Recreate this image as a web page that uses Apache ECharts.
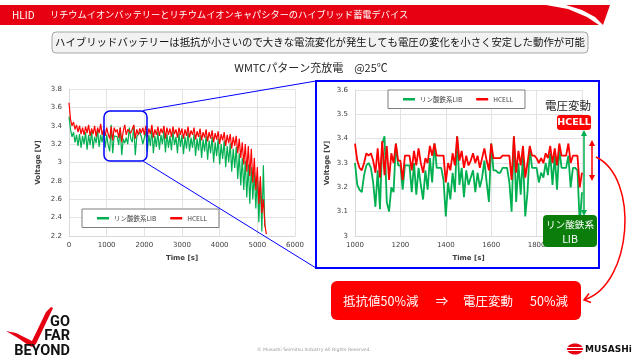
<!DOCTYPE html>
<html><head><meta charset="utf-8">
<script src="https://cdn.jsdelivr.net/npm/echarts@6/dist/echarts.min.js"></script>
<style>html,body{margin:0;padding:0;background:#fff}#c{width:640px;height:360px}</style>
</head><body><div id="c"></div>
<script>
// ---------- data ----------
const seriesNames = ['リン酸鉄系LIB', 'HCELL'];

// full WMTC run: samples every 40 s starting at 0 s
const fullStart = 0, fullStep = 40;
const libFull = [
3.50,3.36,3.28,3.33,3.22,3.30,3.18,3.31,3.16,3.29,3.20,3.33,3.14,3.30,3.19,3.34,3.15,3.28,3.21,3.35,
3.17,3.30,3.22,3.34,3.16,3.30,3.19,3.12,3.41,3.10,3.29,3.29,3.28,3.19,3.38,3.08,3.26,3.21,3.27,3.20,
3.38,3.26,3.22,3.40,3.08,3.28,3.30,3.33,3.28,3.20,3.18,3.34,3.12,3.30,3.18,3.36,3.10,3.29,3.17,3.33,
3.14,3.30,3.20,3.35,3.11,3.31,3.16,3.29,3.13,3.34,3.19,3.28,3.10,3.32,3.17,3.30,3.09,3.28,3.15,3.33,
3.12,3.27,3.16,3.31,3.07,3.26,3.13,3.30,3.05,3.25,3.12,3.29,3.03,3.24,3.10,3.28,3.00,3.22,3.07,3.26,
2.98,3.20,3.04,3.24,2.95,3.18,3.00,3.21,2.90,3.15,2.94,3.17,2.82,3.10,2.75,3.05,2.70,3.02,2.62,2.98,
2.55,2.95,2.60,2.90,2.50,2.85,2.35,2.80,2.25,2.97,2.30
];
const hcellFull = [
3.65,3.47,3.40,3.44,3.36,3.41,3.33,3.40,3.31,3.38,3.30,3.39,3.32,3.41,3.29,3.37,3.31,3.40,3.28,3.38,
3.32,3.42,3.30,3.36,3.29,3.38,3.31,3.26,3.39,3.24,3.38,3.33,3.36,3.27,3.38,3.22,3.34,3.41,3.30,3.36,
3.38,3.32,3.33,3.41,3.26,3.36,3.30,3.37,3.32,3.38,3.30,3.40,3.28,3.37,3.31,3.41,3.27,3.36,3.30,3.39,
3.29,3.37,3.32,3.40,3.26,3.38,3.30,3.37,3.28,3.39,3.31,3.36,3.27,3.38,3.30,3.37,3.26,3.36,3.29,3.39,
3.27,3.35,3.30,3.38,3.25,3.34,3.28,3.37,3.24,3.33,3.27,3.36,3.23,3.33,3.26,3.35,3.22,3.32,3.25,3.34,
3.20,3.31,3.24,3.33,3.18,3.30,3.21,3.31,3.15,3.28,3.18,3.29,3.10,3.26,3.05,3.22,2.98,3.20,2.90,3.18,
2.85,3.15,2.78,3.05,2.70,2.95,2.55,2.85,2.45,2.60,2.32,2.22
];

// zoomed window 1000–2000 s: samples every 10 s
const zoomStart = 1000, zoomStep = 10;
const libZoom = [
3.30,3.21,3.19,3.18,3.25,3.29,3.30,3.28,3.22,3.12,3.27,3.11,3.38,3.41,3.14,3.10,3.20,3.18,3.38,3.29,
3.29,3.19,3.29,3.29,3.29,3.18,3.30,3.17,3.28,3.21,3.15,3.27,3.19,3.32,3.22,3.38,3.28,3.28,3.28,3.23,
3.08,3.22,3.15,3.26,3.18,3.41,3.21,3.28,3.16,3.27,3.21,3.24,3.27,3.18,3.26,3.20,3.24,3.31,3.22,3.14,
3.38,3.27,3.27,3.26,3.26,3.28,3.28,3.28,3.22,3.10,3.41,3.14,3.30,3.17,3.33,3.08,3.18,3.36,3.28,3.28,
3.28,3.22,3.26,3.24,3.30,3.25,3.34,3.21,3.33,3.19,3.36,3.28,3.28,3.28,3.33,3.20,3.28,3.28,3.27,3.05,
3.18
];
const hcellZoom = [
3.38,3.31,3.28,3.27,3.30,3.34,3.33,3.34,3.31,3.26,3.36,3.24,3.39,3.25,3.37,3.23,3.34,3.30,3.38,3.31,
3.31,3.23,3.33,3.33,3.33,3.27,3.35,3.29,3.36,3.30,3.26,3.32,3.30,3.37,3.33,3.38,3.33,3.33,3.33,3.33,
3.22,3.30,3.27,3.34,3.29,3.41,3.31,3.35,3.28,3.33,3.29,3.31,3.34,3.30,3.33,3.28,3.32,3.36,3.31,3.27,
3.38,3.32,3.32,3.32,3.32,3.33,3.33,3.33,3.33,3.23,3.41,3.26,3.35,3.29,3.37,3.24,3.30,3.37,3.33,3.33,
3.32,3.30,3.32,3.30,3.34,3.32,3.37,3.30,3.36,3.29,3.38,3.33,3.33,3.33,3.38,3.30,3.33,3.33,3.33,3.20,
3.26
];

// tick labels
const fullXTicks = [0,1000,2000,3000,4000,5000,6000];
const fullYTicks = [2.2,2.4,2.6,2.8,3,3.2,3.4,3.6,3.8];
const zoomXTicks = [1000,1200,1400,1600,1800,2000];
const zoomYTicks = [3,3.1,3.2,3.3,3.4,3.5,3.6];

// ---------- build ----------
const pairs = (arr, start, step) => arr.map((v, i) => [start + i * step, v]);
const GREEN = '#00b050', RED = '#ff0000', BLUE = '#0000ff';
const CJK = '"Noto Sans CJK JP", "Noto Sans", sans-serif';
const LAT = '"DejaVu Sans", sans-serif';

function axisX(ticks, grid, name) {
  return {
    type: 'value', gridIndex: grid, min: ticks[0], max: ticks[ticks.length - 1],
    interval: ticks[1] - ticks[0], name: name, nameLocation: 'middle', nameGap: 19,
    nameTextStyle: {fontSize: 7, fontWeight: 'bold', color: '#404040', fontFamily: LAT},
    axisLine: {lineStyle: {color: '#d9d9d9'}}, axisTick: {show: false},
    axisLabel: {fontSize: 7, color: '#404040', fontFamily: LAT, margin: 6, formatter: v => String(v)},
    splitLine: {lineStyle: {color: '#e3e3e3'}}
  };
}
function axisY(ticks, grid, gap) {
  const step = Math.round((ticks[1] - ticks[0]) * 10) / 10;
  return {
    type: 'value', gridIndex: grid, min: ticks[0], max: ticks[ticks.length - 1],
    interval: step, name: 'Voltage [V]', nameLocation: 'middle', nameGap: gap, nameRotate: 90,
    nameTextStyle: {fontSize: 7, fontWeight: 'bold', color: '#404040', fontFamily: LAT},
    axisLine: {show: true, lineStyle: {color: '#d9d9d9'}}, axisTick: {show: false},
    axisLabel: {fontSize: 7, color: '#404040', fontFamily: LAT, margin: 7,
      formatter: v => String(Math.round(v * 10) / 10)},
    splitLine: {lineStyle: {color: '#e3e3e3'}}
  };
}
function legend(left, top) {
  return {
    data: seriesNames, left: left, top: top, orient: 'horizontal',
    icon: 'rect', itemWidth: 12, itemHeight: 2.5, itemGap: 14,
    padding: [6, 12, 6, 15], borderColor: '#7f7f7f', borderWidth: 1, backgroundColor: '#fff',
    textStyle: {fontSize: 6.5, color: '#404040', fontFamily: CJK},
    selectedMode: false
  };
}

const chart = echarts.init(document.getElementById('c'), null, {renderer: 'canvas'});
const T = (x, y, text, size, color, opts) => Object.assign({
  type: 'text', x: x, y: y, z: 110,
  style: Object.assign({text: text, fill: color, fontSize: size, fontFamily: CJK,
    textAlign: 'left', textVerticalAlign: 'middle'}, opts || {})
});

const graphics = [
  // header band
  {type: 'polygon', z: 100, shape: {points: [[0,5],[610,5],[603,25],[0,25]]}, style: {fill: '#e60012'}},
  {type: 'polygon', z: 101, shape: {points: [[546,5],[566,5],[582,10],[595,17],[603,25],[599,25],[587,17],[568,9]]}, style: {fill: '#fff'}},
  T(12, 15, 'HLID', 10, '#fff'),
  T(50, 15, 'リチウムイオンバッテリーとリチウムイオンキャパシターのハイブリッド蓄電デバイス', 9.2, '#fff'),
  // subtitle
  {type: 'rect', z: 100, shape: {x: 52, y: 32, width: 536, height: 21, r: 4}, style: {fill: '#f2f2f2', stroke: '#a6a6a6', lineWidth: 1}},
  T(320, 42.5, 'ハイブリッドバッテリーは抵抗が小さいので大きな電流変化が発生しても電圧の変化を小さく安定した動作が可能', 10.4, '#111', {textAlign: 'center'}),
  // title
  T(311, 68, 'WMTCパターン充放電　@25℃', 11, '#262626', {textAlign: 'center'}),
  // zoom marker on left chart and connectors
  {type: 'rect', z: 105, shape: {x: 104, y: 111, width: 43, height: 50, r: 6}, style: {fill: 'none', stroke: BLUE, lineWidth: 1.5}},
  {type: 'line', z: 105, shape: {x1: 143, y1: 110.5, x2: 316, y2: 81}, style: {stroke: BLUE, lineWidth: 1}},
  {type: 'line', z: 105, shape: {x1: 143, y1: 161, x2: 316, y2: 268}, style: {stroke: BLUE, lineWidth: 1}},
  {type: 'rect', z: 105, shape: {x: 316, y: 81, width: 283, height: 187}, style: {fill: 'none', stroke: BLUE, lineWidth: 2}},
  // annotations on right chart
  T(568, 106, '電圧変動', 11.5, '#262626', {textAlign: 'center'}),
  {type: 'rect', z: 108, shape: {x: 557, y: 115, width: 34, height: 15, r: 3}, style: {fill: RED}},
  T(574, 122.8, 'HCELL', 9.5, '#fff', {textAlign: 'center', fontWeight: 'bold', fontFamily: LAT}),
  {type: 'line', z: 108, shape: {x1: 584, y1: 134, x2: 584, y2: 212}, style: {stroke: GREEN, lineWidth: 1.5}},
  {type: 'polygon', z: 108, shape: {points: [[584,130],[581,136],[587,136]]}, style: {fill: GREEN}},
  {type: 'polygon', z: 108, shape: {points: [[584,216],[581,210],[587,210]]}, style: {fill: GREEN}},
  {type: 'line', z: 108, shape: {x1: 592, y1: 144, x2: 592, y2: 177}, style: {stroke: RED, lineWidth: 1.5}},
  {type: 'polygon', z: 108, shape: {points: [[592,140],[589,146],[595,146]]}, style: {fill: RED}},
  {type: 'polygon', z: 108, shape: {points: [[592,181],[589,175],[595,175]]}, style: {fill: RED}},
  {type: 'rect', z: 108, shape: {x: 543, y: 215, width: 54, height: 32, r: 4}, style: {fill: '#0b7d0b'}},
  T(570, 224, 'リン酸鉄系', 9.6, '#fff', {textAlign: 'center'}),
  T(570, 239, 'LIB', 10.5, '#fff', {textAlign: 'center'}),
  // red curved arrow
  {type: 'bezierCurve', z: 108, shape: {x1: 596, y1: 157, cpx1: 640, cpy1: 178, cpx2: 632, cpy2: 284, x2: 585, y2: 299.5}, style: {stroke: RED, lineWidth: 1.5, fill: 'none'}},
  {type: 'polyline', z: 108, shape: {points: [[589,293.5],[584,300],[591,302.5]]}, style: {stroke: RED, lineWidth: 1.5, fill: 'none'}},
  // conclusion box
  {type: 'rect', z: 100, shape: {x: 331, y: 281, width: 250, height: 39, r: 6}, style: {fill: RED}},
  T(343, 301, '抵抗値50%減', 12.5, '#fff'),
  T(442, 301, '⇒', 12.5, '#fff', {textAlign: 'center'}),
  T(463, 301, '電圧変動', 12.5, '#fff'),
  T(530, 301, '50%減', 12.5, '#fff'),
  // footer
  {type: 'polygon', z: 100, shape: {points: [[6,331],[16,333],[26,338],[32,341],[46,312],[51,307],[53,308],[36,344],[32,347],[28,345],[18,338]]}, style: {fill: '#e60012'}},
  T(70, 322, 'GO', 14.5, '#111', {textAlign: 'right', fontWeight: 'bold', fontFamily: '"Roboto", sans-serif'}),
  T(70, 336.5, 'FAR', 14.5, '#111', {textAlign: 'right', fontWeight: 'bold', fontFamily: '"Roboto", sans-serif'}),
  T(70, 351, 'BEYOND', 14.5, '#111', {textAlign: 'right', fontWeight: 'bold', fontFamily: '"Roboto", sans-serif'}),
  T(257, 349.5, '© Musashi Seimitsu Industry All Rights Reserved.', 4.6, '#9a9a9a', {fontFamily: LAT}),
  {type: 'ellipse', z: 100, shape: {cx: 575, cy: 349, rx: 8, ry: 5.5}, style: {fill: '#e60012'}},
  {type: 'line', z: 101, shape: {x1: 566, y1: 347.5, x2: 584, y2: 347.5}, style: {stroke: '#fff', lineWidth: 1}},
  {type: 'line', z: 101, shape: {x1: 566, y1: 350.5, x2: 584, y2: 350.5}, style: {stroke: '#fff', lineWidth: 1}},
  T(585, 349.5, 'MUSASHi', 9, '#111', {fontWeight: 'bold', fontFamily: LAT})
];

chart.setOption({
  animation: false,
  backgroundColor: '#fff',
  grid: [
    {left: 69, right: 345, top: 89, bottom: 124},
    {left: 355, right: 58, top: 90, bottom: 124}
  ],
  xAxis: [axisX(fullXTicks, 0, 'Time [s]'), axisX(zoomXTicks, 1, 'Time [s]')],
  yAxis: [axisY(fullYTicks, 0, 27), axisY(zoomYTicks, 1, 24)],
  legend: [legend(82, 209), legend(388, 90)],
  series: [
    {name: seriesNames[0], type: 'line', xAxisIndex: 0, yAxisIndex: 0, showSymbol: false, symbol: 'none',
      data: pairs(libFull, fullStart, fullStep), lineStyle: {color: GREEN, width: 1.2}, itemStyle: {color: GREEN}},
    {name: seriesNames[1], type: 'line', xAxisIndex: 0, yAxisIndex: 0, showSymbol: false, symbol: 'none',
      data: pairs(hcellFull, fullStart, fullStep), lineStyle: {color: RED, width: 1.2}, itemStyle: {color: RED}},
    {name: seriesNames[0], type: 'line', xAxisIndex: 1, yAxisIndex: 1, showSymbol: false, symbol: 'none',
      data: pairs(libZoom, zoomStart, zoomStep), lineStyle: {color: GREEN, width: 1.8}, itemStyle: {color: GREEN}},
    {name: seriesNames[1], type: 'line', xAxisIndex: 1, yAxisIndex: 1, showSymbol: false, symbol: 'none',
      data: pairs(hcellZoom, zoomStart, zoomStep), lineStyle: {color: RED, width: 1.8}, itemStyle: {color: RED}}
  ],
  graphic: {elements: graphics}
});
</script>
</body></html>
